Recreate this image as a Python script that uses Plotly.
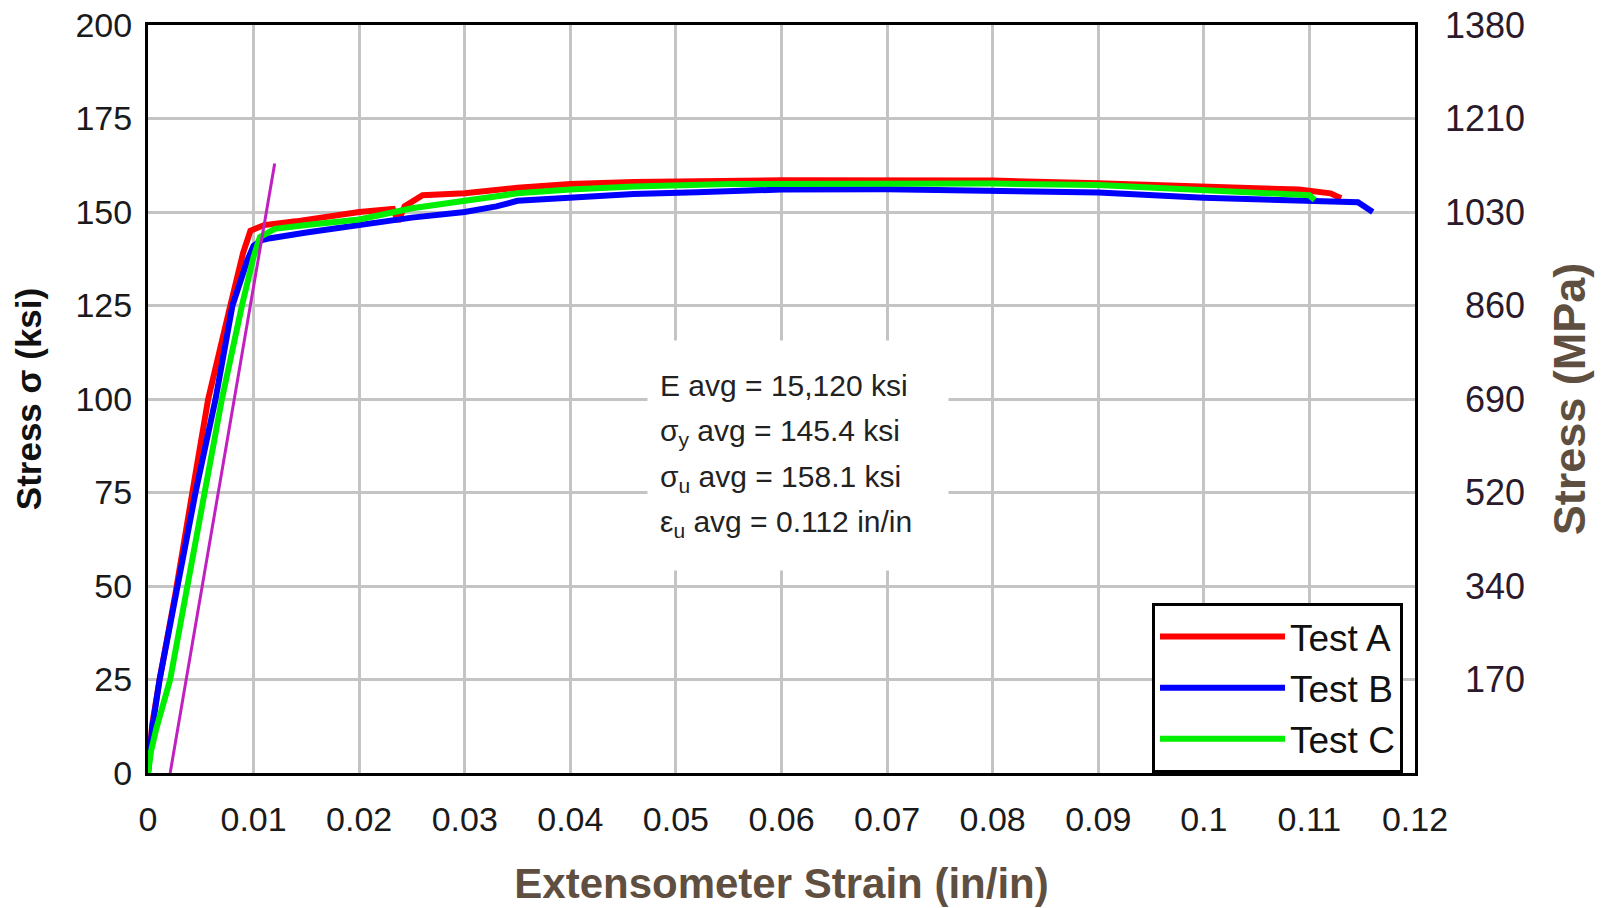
import plotly.graph_objects as go

# ---- data ----
strain_a = [0, 0.0004, 0.0011, 0.0026, 0.0042, 0.0057, 0.0078, 0.0090, 0.0097, 0.0110, 0.0140,
            0.0200, 0.0232, 0.0237, 0.0243, 0.0260, 0.0300, 0.0350, 0.0400, 0.0460, 0.0600,
            0.0700, 0.0800, 0.0900, 0.1000, 0.1090, 0.1120, 0.1130]
stress_a = [0, 13, 25, 48, 75, 100, 125, 139, 145, 146.5, 147.5,
            150, 150.8, 147.5, 151.5, 154.5, 155, 156.5, 157.5, 158, 158.5,
            158.6, 158.4, 157.7, 156.8, 156, 155, 153.7]

strain_b = [0, 0.0004, 0.0011, 0.0027, 0.0045, 0.0064, 0.0080, 0.0094, 0.0100, 0.0108, 0.0116,
            0.0150, 0.0200, 0.0250, 0.0300, 0.0330, 0.0350, 0.0400, 0.0460, 0.0520, 0.0600,
            0.0700, 0.0800, 0.0900, 0.1000, 0.1100, 0.1146, 0.1160]
stress_b = [0, 12, 25, 48, 75, 100, 125, 137, 141, 142.5, 143,
            144.5, 146.5, 148.5, 150, 151.5, 153, 154, 154.8, 155.3, 156,
            156.1, 155.5, 155.2, 153.8, 152.8, 152.6, 150]

strain_c = [0, 0.0003, 0.0008, 0.0021, 0.0036, 0.0053, 0.0070, 0.0089, 0.0100, 0.0106, 0.0120,
            0.0150, 0.0200, 0.0250, 0.0300, 0.0350, 0.0400, 0.0460, 0.0550, 0.0700, 0.0800,
            0.0900, 0.1000, 0.1100, 0.1105]
stress_c = [0, 6, 12, 25, 48, 75, 100, 125, 138, 143.3, 145.5,
            146.5, 148, 151, 153.2, 155, 156, 156.8, 157.5, 157.8, 157.6,
            157.2, 156, 154.5, 153.2]

offset_strain = [0.0021, 0.0120]
offset_stress = [0, 163]

x_ticks = [0, 0.01, 0.02, 0.03, 0.04, 0.05, 0.06, 0.07, 0.08, 0.09, 0.10, 0.11, 0.12]
x_ticktext = ["0", "0.01", "0.02", "0.03", "0.04", "0.05", "0.06", "0.07", "0.08", "0.09", "0.1", "0.11", "0.12"]
ksi_ticks = [0, 25, 50, 75, 100, 125, 150, 175, 200]
mpa_tickvals = [25, 50, 75, 100, 125, 150, 175, 200]
mpa_ticktext = ["170", "340", "520", "690", "860", "1030", "1210", "1380"]

summary_lines = ["E avg = 15,120 ksi",
                 "σ<sub>y</sub> avg = 145.4 ksi",
                 "σ<sub>u</sub> avg = 158.1 ksi",
                 "ε<sub>u</sub> avg = 0.112 in/in"]

SANS = "Liberation Sans, Arial, sans-serif"
BROWN = "#5f4f41"

fig = go.Figure()
fig.add_trace(go.Scatter(x=strain_a, y=stress_a, mode="lines", name="Test A",
                         line=dict(color="#ff0000", width=6)))
fig.add_trace(go.Scatter(x=strain_b, y=stress_b, mode="lines", name="Test B",
                         line=dict(color="#0000ff", width=6)))
fig.add_trace(go.Scatter(x=strain_c, y=stress_c, mode="lines", name="Test C",
                         line=dict(color="#00ee00", width=6)))
fig.add_trace(go.Scatter(x=offset_strain, y=offset_stress, mode="lines", showlegend=False,
                         line=dict(color="#c020c0", width=3)))
fig.add_trace(go.Scatter(x=[None], y=[None], yaxis="y2", showlegend=False, hoverinfo="skip"))

fig.add_annotation(
    x=0.0616, y=85, xref="x", yref="y", showarrow=False,
    text="<br>".join('<span style="font-size:30px">%s</span>' % s for s in summary_lines),
    align="left", font=dict(family=SANS, size=35, color="#222222"),
    bgcolor="white", width=276, height=205, borderpad=12,
)

PLOT_W = 1608 - 148 - 80
fig.update_layout(
    width=1608, height=908,
    margin=dict(l=148, r=80, t=25, b=135),
    paper_bgcolor="white", plot_bgcolor="white",
    showlegend=True,
    legend=dict(x=(1152 - 148) / PLOT_W, y=0, xanchor="left", yanchor="bottom",
                bgcolor="white", bordercolor="black", borderwidth=3,
                font=dict(family=SANS, size=37, color="#111111"),
                itemwidth=125, tracegroupgap=0),
    xaxis=dict(range=[0, 0.12], domain=[0, (1415 - 148) / PLOT_W], tickvals=x_ticks, ticktext=x_ticktext,
               showgrid=True, gridcolor="#c4c4c4", gridwidth=3,
               showline=True, linecolor="black", linewidth=3, mirror=True,
               zeroline=False, ticks="", ticklabelstandoff=14, automargin=False,
               tickfont=dict(family=SANS, size=34, color="#1a1a1a"),
               title=dict(text="Extensometer Strain (in/in)", standoff=32,
                          font=dict(family=SANS, size=42, color=BROWN, weight="bold"))),
    yaxis=dict(range=[0, 200], tickvals=ksi_ticks,
               showgrid=True, gridcolor="#c4c4c4", gridwidth=3,
               showline=True, linecolor="black", linewidth=3, mirror=True,
               zeroline=False, ticks="", ticklabelstandoff=6, automargin=False,
               tickfont=dict(family=SANS, size=34, color="#1a1a1a"),
               title=dict(text="Stress σ (ksi)", standoff=24,
                          font=dict(family=SANS, size=35, color="#111111", weight="bold"))),
    yaxis2=dict(range=[0, 200], overlaying="y", side="right", anchor="free", position=1,
                tickvals=mpa_tickvals, ticktext=mpa_ticktext, ticklabelposition="inside",
                ticklabeloverflow="allow",
                showgrid=False, showline=False, zeroline=False, ticks="", automargin=False,
                tickfont=dict(family=SANS, size=36, color="#2b1a2b"),
                title=dict(text="Stress (MPa)", standoff=29,
                           font=dict(family=SANS, size=45, color=BROWN, weight="bold"))),
)

fig.write_html("out.html", config={"displayModeBar": False},
               post_script="document.body.style.margin='0';document.body.style.overflow='hidden';")
